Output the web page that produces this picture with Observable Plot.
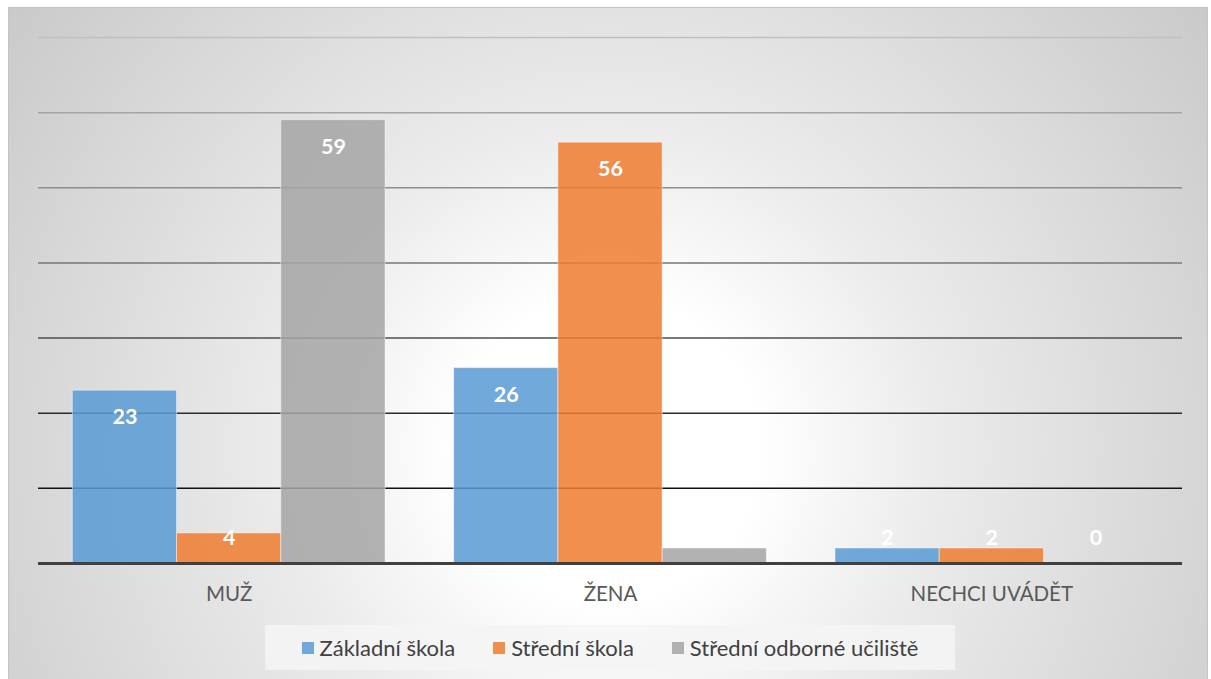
<!DOCTYPE html>
<html>
<head>
<meta charset="utf-8">
<script src="https://cdn.jsdelivr.net/npm/d3@7"></script>
<script src="https://cdn.jsdelivr.net/npm/@observablehq/plot@0.6"></script>
<style>
  html, body { margin: 0; padding: 0; background: #fff; }
  #wrap { position: relative; width: 1211px; height: 679px; overflow: hidden; font-family: Lato, "Noto Sans", sans-serif; }
  #box { position: absolute; left: 8px; top: 7px; width: 1198px; height: 690px; border: 1px solid #c4c4c4;
         background: radial-gradient(circle at 50% 64%, #ffffff 0px, #ffffff 150px, #ebebeb 330px, #c6c6c6 790px); }
  #chart { position: absolute; left: 0; top: 0; }
  #legend { position: absolute; left: 265px; top: 625px; width: 690px; height: 45px; background: rgba(245,245,245,0.85);
            display: flex; align-items: center; justify-content: center; gap: 38px; font-size: 22px; color: #404040; }
  .item { display: flex; align-items: center; gap: 6px; }
  .sw { width: 12px; height: 12px; display: inline-block; }
</style>
</head>
<body>
<div id="wrap">
  <div id="box"></div>
  <div id="chart"></div>
  <div id="legend"></div>
</div>
<script>
// ---- data ----
const groups = ["MUŽ", "ŽENA", "NECHCI UVÁDĚT"];
const series = ["Základní škola", "Střední škola", "Střední odborné učiliště"];
const zakladniSkola = [23, 26, 2];
const stredniSkola = [4, 56, 2];
const stredniOdborneUciliste = [59, 2, 0];
const seriesColors = ["#5B9BD5", "#ED7D31", "#A5A5A5"];
const gridTicks = [10, 20, 30, 40, 50, 60, 70];

const seriesValues = [zakladniSkola, stredniSkola, stredniOdborneUciliste];
const groupPad = 0.09;
const barW = (1 - 2 * groupPad) / series.length;
const data = groups.flatMap((g, i) => series.map((s, j) => ({
  group: g, series: s, value: seriesValues[j][i],
  x1: i + groupPad + j * barW, x2: i + groupPad + (j + 1) * barW
})));

const svg = Plot.plot({
  width: 1211, height: 620,
  marginTop: 37, marginBottom: 57, marginLeft: 38, marginRight: 29,
  style: { background: "transparent", fontFamily: "Lato, 'Noto Sans', sans-serif", overflow: "visible" },
  x: { domain: [0, groups.length], axis: null },
  y: { domain: [0, 70], axis: null },
  color: { domain: series, range: seriesColors },
  marks: [
    Plot.ruleY(gridTicks, { stroke: "url(#gridGrad)", strokeWidth: 1.5 }),
    Plot.rectY(data, { x1: "x1", x2: "x2", y1: 0, y2: "value", fill: "series", fillOpacity: 0.86,
                       stroke: "#ffffff", strokeOpacity: 0.45, strokeWidth: 1 }),
    Plot.ruleY([0], { stroke: "#404040", strokeWidth: 3 }),
    Plot.text(data, { x: d => (d.x1 + d.x2) / 2, y: d => Math.max(d.value - 3.53, 3.4),
                      text: d => String(d.value), fill: "#ffffff", fontWeight: "bold", fontSize: 21.5,
                      lineAnchor: "middle" }),
    Plot.axisX(groups.map((g, i) => i + 0.5), { anchor: "bottom", tickSize: 0, tickPadding: 23,
      tickFormat: d => groups[Math.floor(d)], fontSize: 20.5, color: "#595959", label: null })
  ]
});

// vertical gradient for gridlines (light at top, dark at bottom)
const ns = "http://www.w3.org/2000/svg";
const defs = document.createElementNS(ns, "defs");
const lg = document.createElementNS(ns, "linearGradient");
lg.setAttribute("id", "gridGrad");
lg.setAttribute("gradientUnits", "userSpaceOnUse");
lg.setAttribute("x1", "0"); lg.setAttribute("y1", "36");
lg.setAttribute("x2", "0"); lg.setAttribute("y2", "490");
[["0", "#c0c0c0"], ["0.17", "#a4a4a4"], ["0.33", "#8e8e8e"], ["0.5", "#767676"],
 ["0.67", "#4c4c4c"], ["0.83", "#2a2a2a"], ["1", "#111111"]].forEach(([o, c]) => {
  const st = document.createElementNS(ns, "stop");
  st.setAttribute("offset", o); st.setAttribute("stop-color", c);
  lg.appendChild(st);
});
defs.appendChild(lg);
svg.insertBefore(defs, svg.firstChild);

document.getElementById("chart").appendChild(svg);

// legend
const legend = d3.select("#legend");
series.forEach((s, j) => {
  const it = legend.append("div").attr("class", "item");
  it.append("span").attr("class", "sw").style("background", seriesColors[j]).style("opacity", 0.86);
  it.append("span").text(s);
});
</script>
</body>
</html>
